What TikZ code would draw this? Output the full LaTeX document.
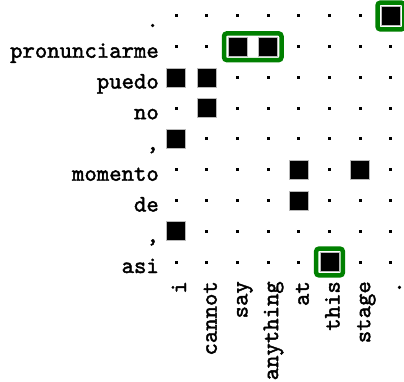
\documentclass[tikz,border=0pt]{standalone}
\usepackage{fontspec}
\newfontfamily\lblfont{lmmono10-regular.otf}[FakeBold=1.8]
\usetikzlibrary{fit}
\definecolor{selgreen}{RGB}{0,128,0}
\begin{document}
\begin{tikzpicture}[x=1pt,y=-1pt,
  lbl/.style={font=\fontsize{23.6}{24}\selectfont\lblfont, inner sep=0pt},
  dotcell/.style={fill=black, minimum size=3pt, inner sep=0pt},
  hit/.style={fill=black, draw=gray!55, line width=0.8pt, minimum size=19pt, inner sep=0pt},
  sel/.style={draw=selgreen, line width=4.5pt, rounded corners=3pt, inner sep=3.5pt}]
\useasboundingbox (0,0) rectangle (404,382);
% grid dots
\foreach \i in {1,...,9}{
  \foreach \j in {1,...,8}{
    \node[dotcell] (d-\i-\j) at ({176+30.7*(\j-1)},{16+30.75*(\i-1)}) {};
  }
}
% filled cells
\foreach \i/\j in {1/8,2/3,2/4,3/1,3/2,4/2,5/1,6/5,6/7,7/5,8/1,9/6}{
  \node[hit] (h-\i-\j) at (d-\i-\j) {};
}
% highlighted alignments
\node[sel, fit=(h-1-8)] (s1) {};
\node[sel, fit=(h-2-3)(h-2-4)] (s2) {};
\node[sel, fit=(h-9-6)] (s3) {};
% row labels
\foreach \t [count=\i] in {., pronunciarme, puedo, no, {,}, momento, de, {,}, asi}{
  \node[lbl, anchor=base east] (r-\i) at (159,{16+30.75*(\i-1)+11}) {\t};
}
% column labels
\foreach \t [count=\j] in {i, cannot, say, anything, at, this, stage, .}{
  \node[lbl, rotate=90, anchor=base east] (k-\j) at ({176+30.7*(\j-1)+10},281) {\t};
}
\end{tikzpicture}
\end{document}
